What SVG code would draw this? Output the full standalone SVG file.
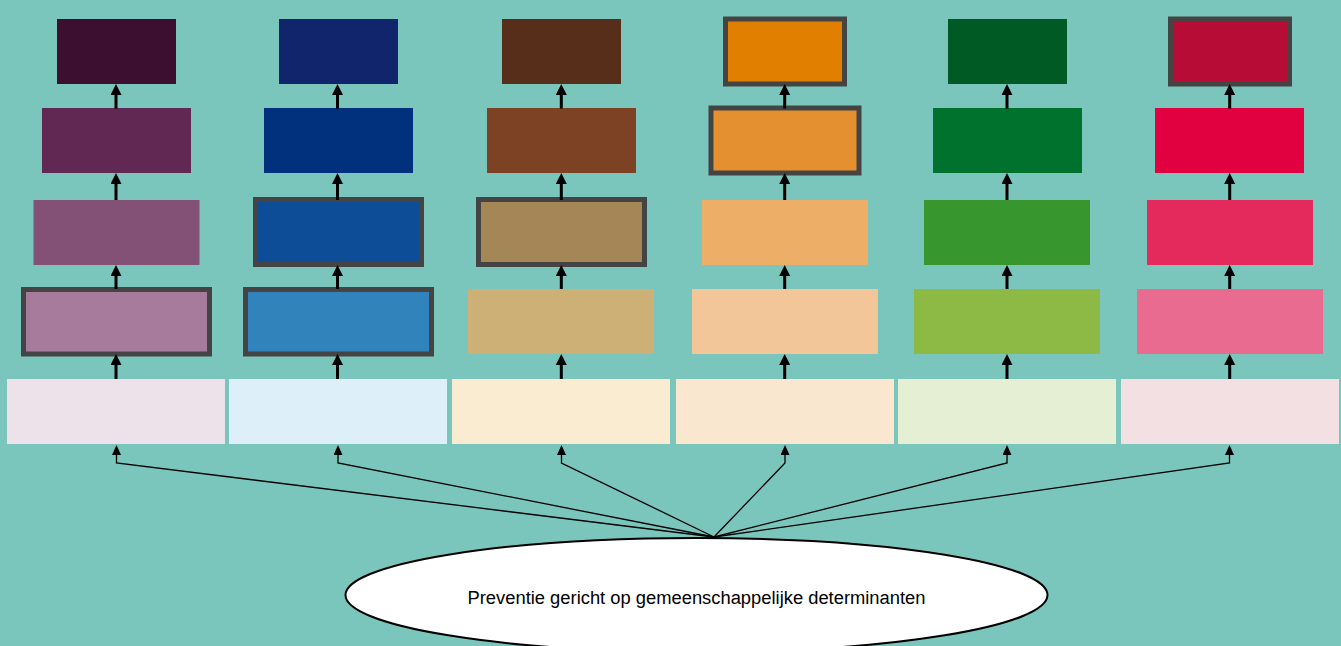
<svg xmlns="http://www.w3.org/2000/svg" width="1341" height="646" viewBox="0 0 1341 646">
<style>
.b{stroke:#444444;stroke-width:5}
.v{stroke:#000;stroke-width:3;fill:none}
.c{stroke:#000;stroke-width:1.3;fill:none}
.t{font-family:"Liberation Sans",Arial,sans-serif;font-size:18px;fill:#000}
</style>
<defs>
<marker id="big" markerUnits="userSpaceOnUse" markerWidth="12" markerHeight="12" refX="5" refY="5.5" orient="auto"><path d="M0,0 L11,5.5 L0,11 z" fill="#000"/></marker>
<marker id="sm" markerUnits="userSpaceOnUse" markerWidth="11" markerHeight="10" refX="4" refY="4.5" orient="auto"><path d="M0,0 L10,4.5 L0,9 z" fill="#000"/></marker>
</defs>
<rect width="1341" height="646" fill="#7bc6bc"/>

<g id="col1">
<rect id="c1l1" x="57" y="19" width="119" height="65" fill="#3c0e30"/>
<rect id="c1l2" x="42" y="108" width="149" height="65" fill="#602853"/>
<rect id="c1l3" x="33.5" y="200" width="166" height="65" fill="#845176"/>
<rect id="c1l4" class="b" x="23.5" y="289.5" width="186" height="64.5" fill="#a77b9c"/>
<rect id="c1l5" x="7" y="379" width="218" height="65" fill="#ede2e9"/>
</g>
<g id="col2">
<rect id="c2l1" x="279" y="19" width="119" height="65" fill="#10256b"/>
<rect id="c2l2" x="264" y="108" width="149" height="65" fill="#01317d"/>
<rect id="c2l3" class="b" x="255.5" y="199.5" width="166" height="65" fill="#0d4c96"/>
<rect id="c2l4" class="b" x="245.5" y="289.5" width="186" height="64.5" fill="#3184bb"/>
<rect id="c2l5" x="229" y="379" width="218" height="65" fill="#ddf0f9"/>
</g>
<g id="col3">
<rect id="c3l1" x="502" y="19" width="119" height="65" fill="#572e19"/>
<rect id="c3l2" x="487" y="108" width="149" height="65" fill="#7c4223"/>
<rect id="c3l3" class="b" x="478.5" y="199.5" width="166" height="65" fill="#a48657"/>
<rect id="c3l4" x="468" y="289" width="186" height="65" fill="#cdb076"/>
<rect id="c3l5" x="452" y="379" width="218" height="65" fill="#f9ecd0"/>
</g>
<g id="col4">
<rect id="c4l1" class="b" x="725.5" y="19" width="119" height="65" fill="#e07f00"/>
<rect id="c4l2" class="b" x="711" y="108" width="148" height="65" fill="#e49031"/>
<rect id="c4l3" x="702" y="200" width="166" height="65" fill="#edae68"/>
<rect id="c4l4" x="692" y="289" width="186" height="65" fill="#f2c698"/>
<rect id="c4l5" x="676" y="379" width="218" height="65" fill="#f9e7cf"/>
</g>
<g id="col5">
<rect id="c5l1" x="948" y="19" width="119" height="65" fill="#005a24"/>
<rect id="c5l2" x="933" y="108" width="149" height="65" fill="#00722e"/>
<rect id="c5l3" x="924" y="200" width="166" height="65" fill="#37962e"/>
<rect id="c5l4" x="914" y="289" width="186" height="65" fill="#8dba45"/>
<rect id="c5l5" x="898" y="379" width="218" height="65" fill="#e5efd3"/>
</g>
<g id="col6">
<rect id="c6l1" class="b" x="1170.5" y="19" width="119" height="65" fill="#b60c35"/>
<rect id="c6l2" x="1155" y="108" width="149" height="65" fill="#e10040"/>
<rect id="c6l3" x="1147" y="200" width="166" height="65" fill="#e4295c"/>
<rect id="c6l4" x="1137" y="289" width="186" height="65" fill="#e96b90"/>
<rect id="c6l5" x="1121" y="379" width="218" height="65" fill="#f2e0e2"/>
</g>

<g id="root">
<ellipse cx="696.5" cy="595" rx="351" ry="57" fill="#fff" stroke="#000" stroke-width="2"/>
<text class="t" x="696.5" y="604" text-anchor="middle" textLength="458" lengthAdjust="spacingAndGlyphs">Preventie gericht op gemeenschappelijke determinanten</text>
</g>

<g id="connectors">
<g marker-end="url(#big)" class="v">
<path d="M116,108.5V90"/><path d="M116,200V179"/><path d="M116,289V271"/><path d="M116,379V360"/>
<path d="M337.5,108.5V90"/><path d="M337.5,200V179"/><path d="M337.5,289V271"/><path d="M337.5,379V360"/>
<path d="M561.3,108.5V90"/><path d="M561.3,200V179"/><path d="M561.3,289V271"/><path d="M561.3,379V360"/>
<path d="M784.7,108.5V90"/><path d="M784.7,200V179"/><path d="M784.7,289V271"/><path d="M784.7,379V360"/>
<path d="M1007,108.5V90"/><path d="M1007,200V179"/><path d="M1007,289V271"/><path d="M1007,379V360"/>
<path d="M1229.7,108.5V90"/><path d="M1229.7,200V179"/><path d="M1229.7,289V271"/><path d="M1229.7,379V360"/>
</g>
<g marker-end="url(#sm)" class="c">
<path d="M714,537L116.5,463V451"/>
<path d="M714,537L338,463V451"/>
<path d="M714,537L561.5,463V451"/>
<path d="M714,537L785,463V451"/>
<path d="M714,537L1007,463V451"/>
<path d="M714,537L1229.5,463V451"/>
</g>
</g>
</svg>
